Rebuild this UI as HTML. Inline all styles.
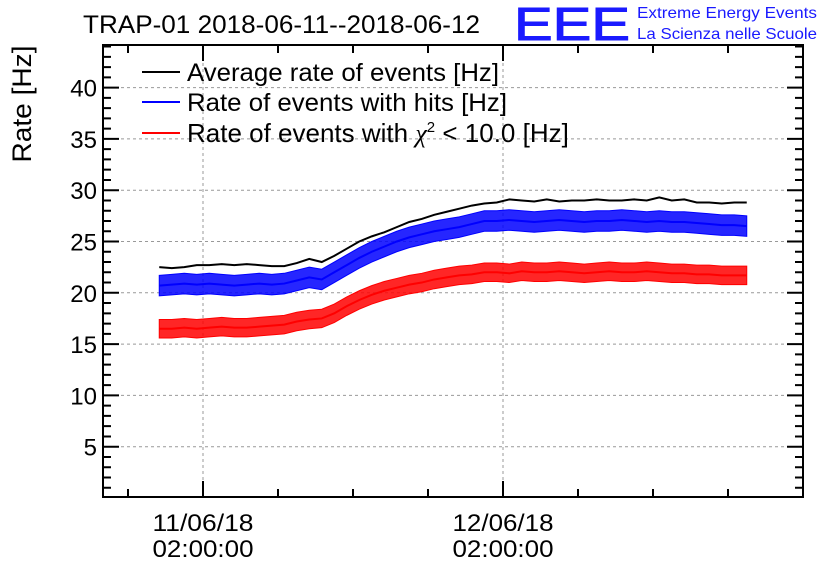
<!DOCTYPE html>
<html><head><meta charset="utf-8"><style>
body{margin:0;background:#fff;}
svg{display:block;font-family:"Liberation Sans",sans-serif;}
</style></head><body>
<svg id="chart" width="836" height="572" viewBox="0 0 836 572">
<text x="83" y="33" font-size="25" textLength="397" lengthAdjust="spacingAndGlyphs">TRAP-01 2018-06-11--2018-06-12</text>
<g>
<text x="514" y="40" font-size="46" fill="#1a1aff" stroke="#1a1aff" stroke-width="1" textLength="116" lengthAdjust="spacingAndGlyphs">EEE</text>
<text x="637" y="18" font-size="16" fill="#1a1aff" textLength="180" lengthAdjust="spacingAndGlyphs">Extreme Energy Events</text>
<text x="637" y="39" font-size="16" fill="#1a1aff" textLength="180" lengthAdjust="spacingAndGlyphs">La Scienza nelle Scuole</text>
</g>
<text transform="translate(31,104) rotate(-90)" text-anchor="middle" font-size="27" textLength="117" lengthAdjust="spacingAndGlyphs">Rate [Hz]</text>
<g id="grid"></g><g id="series"></g><g id="axes"></g>
<g font-size="25">
<g><line x1="142" y1="72" x2="180" y2="72" stroke="#000" stroke-width="2"/><text x="187" y="81" textLength="312" lengthAdjust="spacingAndGlyphs">Average rate of events [Hz]</text></g>
<g><line x1="142" y1="102" x2="180" y2="102" stroke="#00f" stroke-width="2"/><text x="187" y="111" textLength="320" lengthAdjust="spacingAndGlyphs">Rate of events with hits [Hz]</text></g>
<g><line x1="142" y1="133" x2="180" y2="133" stroke="#f00" stroke-width="2"/><text x="187" y="142" font-size="26">Rate of events with <tspan font-family="Liberation Serif" font-style="italic">χ</tspan><tspan font-size="15" dy="-10">2</tspan><tspan dy="10"> &lt; 10.0 [Hz]</tspan></text></g>
</g>
</svg>
<script>
const hours = [];
for (let i = 0; i < 48; i++) hours.push(-1.5 + i);
const avgRate = [22.5,22.4,22.5,22.7,22.7,22.8,22.7,22.8,22.7,22.6,22.6,22.9,23.3,23.0,23.6,24.3,25.0,25.5,25.9,26.4,26.9,27.2,27.6,27.9,28.2,28.5,28.7,28.8,29.1,29.0,28.9,29.1,28.9,29.0,29.0,29.1,29.0,29.0,29.1,29.0,29.3,29.0,29.1,28.8,28.8,28.7,28.8,28.8];
const hitsRate = [20.7,20.8,20.9,20.8,20.9,20.8,20.7,20.8,20.9,20.8,20.9,21.2,21.5,21.3,22.0,22.7,23.4,24.0,24.5,25.0,25.4,25.7,26.0,26.2,26.4,26.7,27.0,27.0,27.1,27.0,26.9,27.0,27.1,27.0,26.9,27.0,27.0,27.1,27.0,26.9,27.0,26.9,26.9,26.8,26.7,26.6,26.6,26.5];
const chi2Rate = [16.5,16.5,16.6,16.5,16.6,16.7,16.6,16.6,16.7,16.8,16.9,17.2,17.4,17.5,18.0,18.7,19.3,19.8,20.2,20.5,20.8,21.0,21.3,21.5,21.7,21.8,22.0,22.0,21.9,22.1,22.0,22.0,22.1,22.0,21.9,22.0,22.1,22.0,22.0,22.1,22.0,21.9,21.9,21.8,21.8,21.7,21.7,21.7];
const hitsSpread = 1.0;
const chi2Spread = 0.9;
const yTicks = [5,10,15,20,25,30,35,40];
const xMajorHours = [2, 26];
const xLabelDate = ["11/06/18","12/06/18"];
const xLabelTime = ["02:00:00","02:00:00"];

const L=103,R=803,T=45,B=497;
const xs = h => 203 + (h-2)*12.5;
const ys = v => 498 - v*10.26;
const NS="http://www.w3.org/2000/svg";
function mk(tag, attrs, parent){const e=document.createElementNS(NS,tag);for(const k in attrs)e.setAttribute(k,attrs[k]);parent.appendChild(e);return e;}
const grid=document.getElementById('grid'), axes=document.getElementById('axes'), series=document.getElementById('series');

yTicks.forEach(v=>{
  const g=mk('line',{x1:L,x2:R,y1:ys(v),y2:ys(v),stroke:'#999','stroke-dasharray':'3,3','stroke-width':1},grid);
  
  
  const t=mk('text',{x:97,y:ys(v)+9,'text-anchor':'end','font-size':24},axes);
  t.textContent=v;
  
  
});
xMajorHours.forEach((h,i)=>{
  const g=mk('line',{x1:xs(h),x2:xs(h),y1:T,y2:B,stroke:'#999','stroke-dasharray':'3,3','stroke-width':1},grid);
  
  
  const t1=mk('text',{x:xs(h),y:531,'text-anchor':'middle','font-size':24,textLength:101,lengthAdjust:'spacingAndGlyphs'},axes);
  t1.textContent=xLabelDate[i];
  
  
  const t2=mk('text',{x:xs(h),y:557,'text-anchor':'middle','font-size':24,textLength:101,lengthAdjust:'spacingAndGlyphs'},axes);
  t2.textContent=xLabelTime[i];
  
  
});
let tk='';
for(let v=0;v<=44;v+=1){const y=ys(v);if(y<T||y>B)continue;const len=(v%5===0)?16:8;tk+=`M${L},${y}h${len}M${R},${y}h${-len}`;}
for(let h=-4;h<=50;h+=6){const x=xs(h);if(x<L||x>R)continue;const len=((h-2)%24===0)?16:8;tk+=`M${x},${B}v${-len}M${x},${T}v${len}`;}
const ticks=mk('path',{d:tk,stroke:'#000','stroke-width':2,fill:'none'},axes);


const frame=mk('rect',{x:L,y:T,width:R-L,height:B-T,fill:'none',stroke:'#000','stroke-width':2},axes);



function band(vals,spread,color,name){
  let top=hours.map((h,i)=>`${xs(h)},${ys(vals[i]+spread)}`);
  let bot=hours.map((h,i)=>`${xs(h)},${ys(vals[i]-spread)}`).reverse();
  const p=mk('polygon',{points:top.concat(bot).join(' '),fill:color,'fill-opacity':0.85,stroke:color,'stroke-width':1},series);
  
  
  const l=mk('polyline',{points:hours.map((h,i)=>`${xs(h)},${ys(vals[i])}`).join(' '),fill:'none',stroke:color,'stroke-width':2},series);
  
  
}
band(hitsRate,hitsSpread,'#0000ff','hits-rate');
band(chi2Rate,chi2Spread,'#ff0000','chi2-rate');
const al=mk('polyline',{points:hours.map((h,i)=>`${xs(h)},${ys(avgRate[i])}`).join(' '),fill:'none',stroke:'#000','stroke-width':2},series);


</script>
</body></html>
